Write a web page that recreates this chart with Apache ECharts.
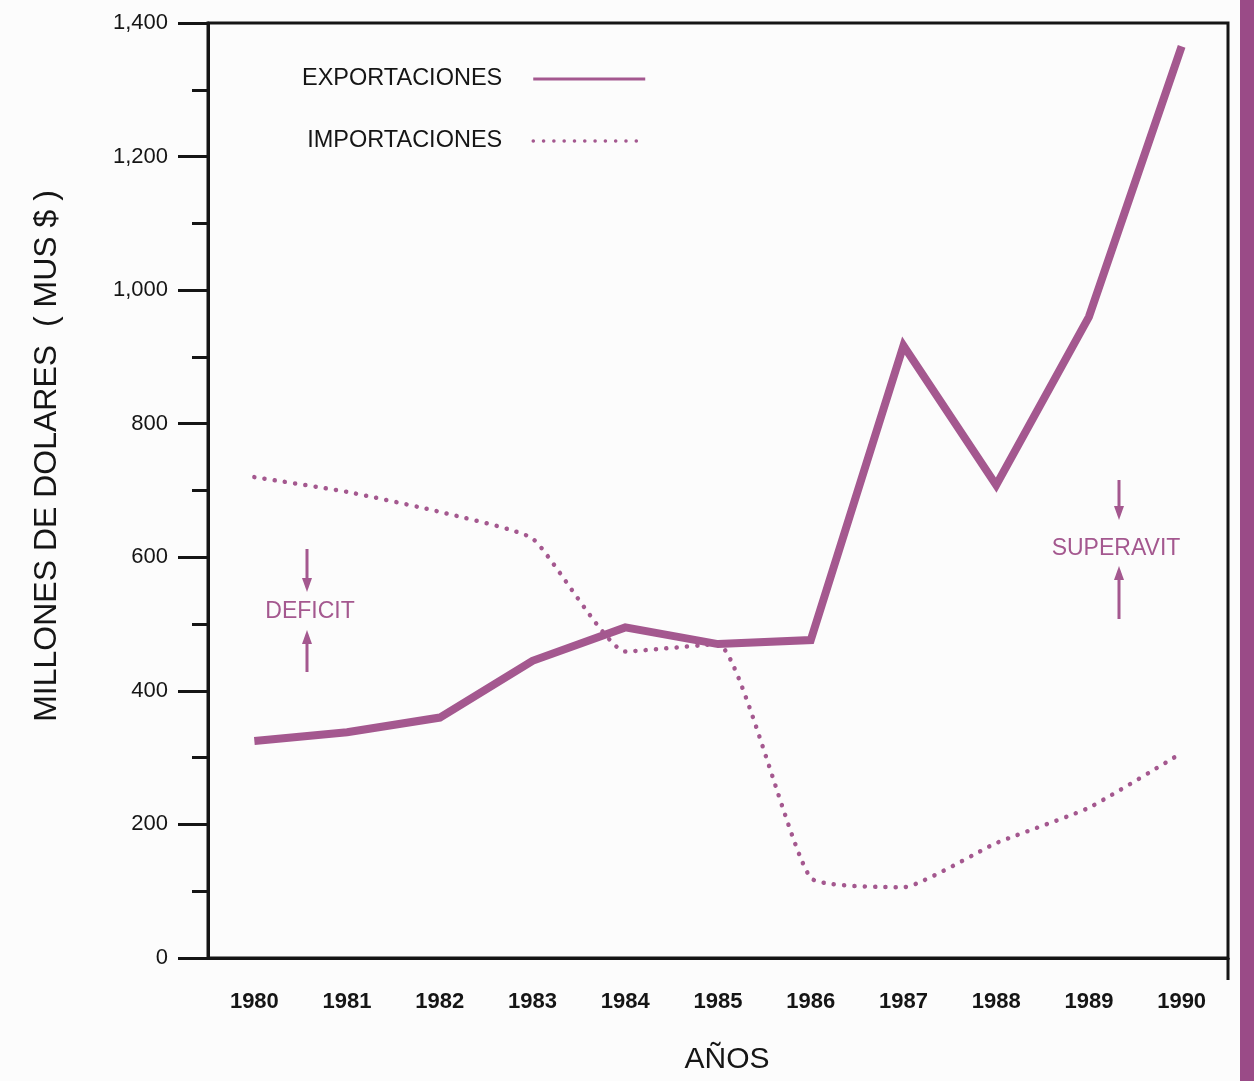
<!DOCTYPE html>
<html>
<head>
<meta charset="utf-8">
<title>Exportaciones e importaciones 1980-1990</title>
<script src="https://cdn.jsdelivr.net/npm/echarts@6/dist/echarts.min.js"></script>
<style>
  html, body { margin: 0; padding: 0; background: #fcfcfc; }
  #chartWrap { width: 1254px; height: 1081px; }
</style>
</head>
<body>
<div id="chartWrap"></div>
<script>
// datos (MUS $)
var years = ['1980', '1981', '1982', '1983', '1984', '1985', '1986', '1987', '1988', '1989', '1990'];
var exportaciones = [325, 338, 360, 445, 495, 470, 476, 917, 708, 960, 1365];
var importaciones = [720, 698, 668, 628, 459, 470, 120, 106, 172, 225, 307];

var PURPLE = '#a4588f';
var INK = '#151515';
var FONT = '"Liberation Sans", Arial, sans-serif';

// flecha vertical: de y1 a y2, punta en y2
function arrow(x, y1, y2) {
  var dir = y2 > y1 ? 1 : -1;
  return {
    type: 'group',
    children: [
      { type: 'line', shape: { x1: x, y1: y1, x2: x, y2: y2 - dir * 10 },
        style: { stroke: PURPLE, lineWidth: 3 } },
      { type: 'polygon', shape: { points: [[x - 5, y2 - dir * 14], [x + 5, y2 - dir * 14], [x, y2]] },
        style: { fill: PURPLE } }
    ]
  };
}

var myChart = echarts.init(document.getElementById('chartWrap'));

myChart.setOption({
  backgroundColor: '#fcfcfc',
  animation: false,
  grid: {
    left: 208, right: 26, top: 23, bottom: 123,
    show: true, borderColor: INK, borderWidth: 3
  },
  legend: {
    left: 297, top: 62,
    orient: 'vertical',
    align: 'right',
    itemGap: 38,
    itemWidth: 112,
    itemHeight: 16,
    textStyle: { fontFamily: FONT, fontSize: 23.5, color: INK, padding: [0, 26, 0, 0] },
    data: [
      { name: 'EXPORTACIONES', lineStyle: { width: 3 }, itemStyle: { opacity: 0 } },
      { name: 'IMPORTACIONES', lineStyle: { width: 3.5 }, itemStyle: { opacity: 0 } }
    ]
  },
  xAxis: {
    type: 'category',
    data: years,
    boundaryGap: true,
    axisLine: { lineStyle: { color: INK, width: 3 } },
    axisTick: { length: 27, lineStyle: { color: INK, width: 3 } },
    axisLabel: { margin: 33, color: INK, fontFamily: FONT, fontSize: 22, fontWeight: 'bold' },
    splitLine: { show: false }
  },
  yAxis: {
    type: 'value',
    min: 0, max: 1400, interval: 200,
    axisLine: { show: true, lineStyle: { color: INK, width: 3 } },
    axisTick: { show: true, length: 30, lineStyle: { color: INK, width: 3 } },
    minorTick: { show: true, splitNumber: 2, length: 16, lineStyle: { color: INK, width: 3 } },
    axisLabel: {
      margin: 40, color: INK, fontFamily: FONT, fontSize: 22,
      formatter: function (v) { return v.toLocaleString('en-US'); }
    },
    splitLine: { show: false }
  },
  series: [
    {
      name: 'EXPORTACIONES',
      type: 'line',
      data: exportaciones,
      symbol: 'none',
      lineStyle: { color: PURPLE, width: 8, join: 'miter' },
      itemStyle: { color: PURPLE }
    },
    {
      name: 'IMPORTACIONES',
      type: 'line',
      data: importaciones,
      symbol: 'none',
      smooth: 0.15,
      lineStyle: { color: PURPLE, width: 4.5, type: [0.1, 10.2], cap: 'round' },
      itemStyle: { color: PURPLE }
    }
  ],
  graphic: [
    { type: 'rect', shape: { x: 1240, y: 0, width: 14, height: 1081 }, style: { fill: '#9a4b87' } },
    { type: 'line', shape: { x1: 1228, y1: 958, x2: 1228, y2: 980 }, style: { stroke: INK, lineWidth: 3 } },
    { type: 'text', x: 47, y: 456, rotation: Math.PI / 2,
      style: { text: 'MILLONES DE DOLARES  ( MUS $ )', font: '32px ' + FONT, fill: INK,
               align: 'center', verticalAlign: 'middle' } },
    { type: 'text', x: 727, y: 1060,
      style: { text: 'AÑOS', font: '30px ' + FONT, fill: INK, align: 'center', verticalAlign: 'middle' } },
    { type: 'text', x: 310, y: 612,
      style: { text: 'DEFICIT', font: '23px ' + FONT, fill: PURPLE, align: 'center', verticalAlign: 'middle' } },
    { type: 'text', x: 1116, y: 549,
      style: { text: 'SUPERAVIT', font: '23px ' + FONT, fill: PURPLE, align: 'center', verticalAlign: 'middle' } },
    arrow(307, 549, 592),
    arrow(307, 672, 630),
    arrow(1119, 480, 520),
    arrow(1119, 619, 566)
  ]
});
</script>
</body>
</html>
